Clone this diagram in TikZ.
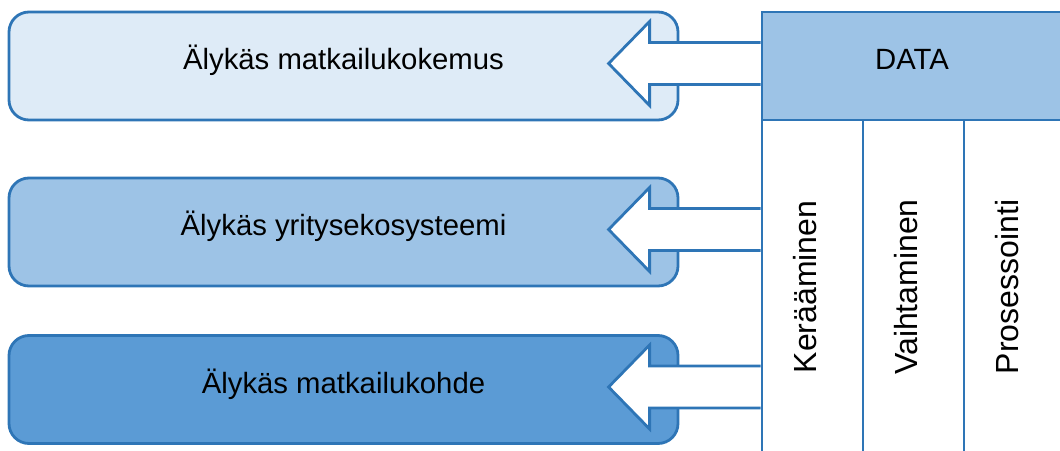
\documentclass[tikz,border=0pt]{standalone}
\usepackage{fontspec}
\setmainfont{Liberation Sans}
\usetikzlibrary{calc}
\definecolor{edgeblue}{HTML}{2E75B6}
\definecolor{paleblue}{HTML}{DEEBF7}
\definecolor{midblue}{HTML}{9DC3E6}
\definecolor{deepblue}{HTML}{5B9BD5}

\begin{document}
\begin{tikzpicture}[x=1pt,y=-1pt,
  box/.style={draw=edgeblue, line width=2.8pt, rounded corners=20pt, minimum width=669pt, minimum height=108pt, text height=25pt, text depth=18pt, font=\fontsize{29.3}{34}\selectfont},
  col/.style={draw=edgeblue, line width=2.8pt, minimum width=101pt, minimum height=350pt, inner sep=0pt},
  collabel/.style={rotate=90, inner sep=0pt, text height=23pt, text depth=0pt, font=\fontsize{32}{38}\selectfont},
  blockarrow/.style={draw=edgeblue, line width=2.8pt, fill=white}]

    \useasboundingbox (0,0) rectangle (1060,450);
    \clip (0,0) rectangle (1060,450);

    % The three levels
	\node [box, fill=paleblue] at (343.5,66) (km) {Älykäs matkailukokemus};
	\node [box, fill=midblue] at (343.5,232) (ye) {Älykäs yritysekosysteemi};
	\node [box, fill=deepblue] at (343.5,389.5) (mk) {Älykäs matkailukohde};

	% Data columns
	\node [col] at (812.5,295) (col1) {};
	\node [col] at (913.5,295) (col2) {};
	\node [col] at (1014.5,295) (col3) {};

	% Block arrows
	\foreach \b in {km,ye,mk} {
	  \draw [blockarrow] ($(col1.west |- \b.east)+(0,-23.5)$) -- ++(-111,0) -- ++(0,-21)
	    -- ++(-41,42) -- ++(41,42) -- ++(0,-21) -- ++(111,0);
	}

	% Data header
	\node [box, rounded corners=0pt, fill=midblue, minimum width=300pt] at (912,66) (data) {DATA};

	% Column labels
	\node [collabel] at ($(col1.center)+(-8,-8)$) (ker) {Kerääminen};
	\node [collabel] at ($(col2.center)+(-8,-8)$) (vai) {Vaihtaminen};
	\node [collabel] at ($(col3.center)+(-8,-8)$) (pro) {Prosessointi};

\end{tikzpicture}
\end{document}
